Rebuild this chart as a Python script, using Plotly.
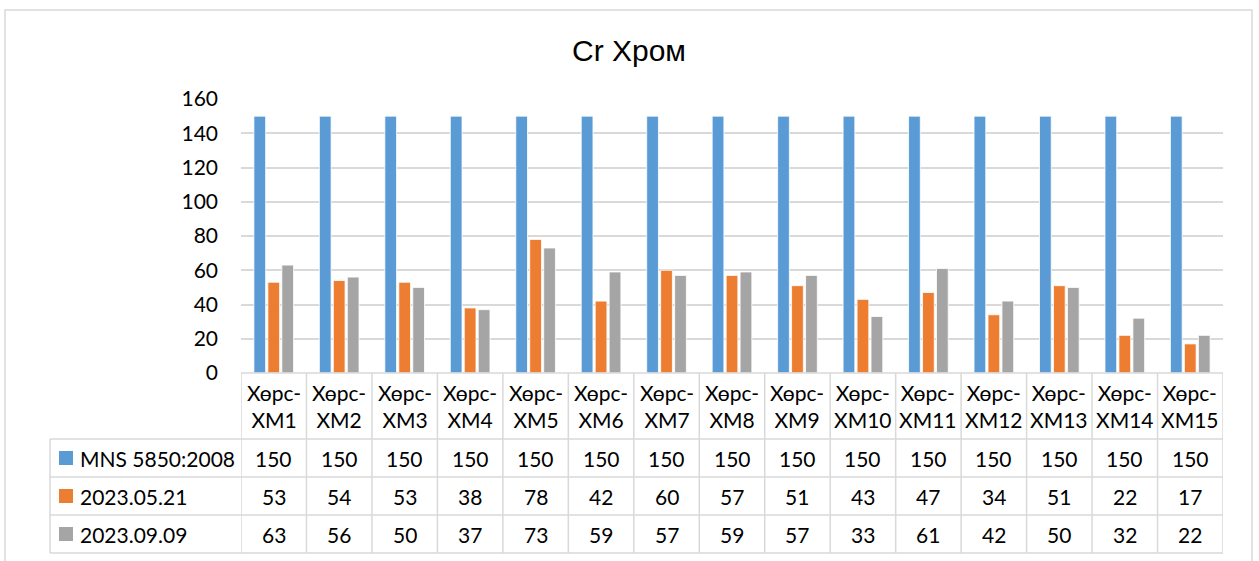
import plotly.graph_objects as go

# Chromium (Cr) in soil samples, mg/kg
sites = ["Хөрс-ХМ1", "Хөрс-ХМ2", "Хөрс-ХМ3", "Хөрс-ХМ4", "Хөрс-ХМ5",
         "Хөрс-ХМ6", "Хөрс-ХМ7", "Хөрс-ХМ8", "Хөрс-ХМ9", "Хөрс-ХМ10",
         "Хөрс-ХМ11", "Хөрс-ХМ12", "Хөрс-ХМ13", "Хөрс-ХМ14", "Хөрс-ХМ15"]
mns_limit = [150, 150, 150, 150, 150, 150, 150, 150, 150, 150, 150, 150, 150, 150, 150]
may_2023 = [53, 54, 53, 38, 78, 42, 60, 57, 51, 43, 47, 34, 51, 22, 17]
sep_2023 = [63, 56, 50, 37, 73, 59, 57, 59, 57, 33, 61, 42, 50, 32, 22]
series_names = ["MNS 5850:2008", "2023.05.21", "2023.09.09"]
y_ticks = [0, 20, 40, 60, 80, 100, 120, 140, 160]

colors = ["#5B9BD5", "#ED7D31", "#A5A5A5"]
series = [mns_limit, may_2023, sep_2023]

W, H = 1259, 561
L, R, T, B = 241, 1223, 99, 373  # plot area in pixels
GRID = "#D9D9D9"
FONT = "Lato"
FS = 21


def py(pixel_y):
    """pixel row -> paper y"""
    return (B - pixel_y) / (B - T)


def px(pixel_x):
    """pixel column -> paper x"""
    return (pixel_x - L) / (R - L)


x_idx = list(range(len(sites)))

fig = go.Figure()
for name, vals, col in zip(series_names, series, colors):
    fig.add_trace(go.Bar(
        x=x_idx, y=vals, name=name,
        marker=dict(color=col, line=dict(color="white", width=0.8)),
    ))

shapes = []
annotations = []

# outer chart frame
shapes.append(dict(type="rect", xref="paper", yref="paper",
                   x0=px(5), x1=px(1252), y0=py(600), y1=py(10),
                   line=dict(color=GRID, width=1.5), fillcolor="rgba(0,0,0,0)",
                   layer="below"))

# data table grid
row_y = [373, 439, 477, 515, 553]
n = len(sites)
# top line of header row (category axis)
shapes.append(dict(type="line", xref="x", yref="paper", x0=-0.5, x1=n - 0.5,
                   y0=py(row_y[0]), y1=py(row_y[0]), line=dict(color=GRID, width=1.5)))
for ry in row_y[1:]:
    shapes.append(dict(type="line", xref="paper", yref="paper", x0=px(50), x1=1,
                       y0=py(ry), y1=py(ry), line=dict(color=GRID, width=1.5)))
for i in range(n + 1):
    shapes.append(dict(type="line", xref="x", yref="paper", x0=i - 0.5, x1=i - 0.5,
                       y0=py(row_y[0]), y1=py(row_y[-1]), line=dict(color=GRID, width=1.5)))
shapes.append(dict(type="line", xref="paper", yref="paper", x0=px(50), x1=px(50),
                   y0=py(row_y[1]), y1=py(row_y[-1]), line=dict(color=GRID, width=1.5)))

# category header cells
for i, s in enumerate(sites):
    head, tail = s.split("-")
    annotations.append(dict(xref="x", yref="paper", x=i, y=py((row_y[0] + row_y[1]) / 2),
                            text=head + "-<br>" + tail, showarrow=False,
                            font=dict(family=FONT, size=FS, color="#000000"),
                            xanchor="center", yanchor="middle", align="center"))

# series rows: legend key + values
for r, (name, vals, col) in enumerate(zip(series_names, series, colors)):
    y_top, y_bot = row_y[r + 1], row_y[r + 2]
    yc = (y_top + y_bot) / 2
    shapes.append(dict(type="rect", xref="paper", yref="paper",
                       x0=px(59), x1=px(73), y0=py(yc + 7), y1=py(yc - 7),
                       fillcolor=col, line=dict(width=0)))
    annotations.append(dict(xref="paper", yref="paper", x=px(78), y=py(yc),
                            text=name, showarrow=False, xanchor="left", yanchor="middle",
                            font=dict(family=FONT, size=FS, color="#000000")))
    for i, v in enumerate(vals):
        annotations.append(dict(xref="x", yref="paper", x=i, y=py(yc),
                                text=str(v), showarrow=False,
                                xanchor="center", yanchor="middle",
                                font=dict(family=FONT, size=FS, color="#000000")))

# chart title
annotations.append(dict(xref="paper", yref="paper", x=px(629), y=py(50),
                        text="Cr Хром", showarrow=False, xanchor="center", yanchor="middle",
                        font=dict(family="Liberation Sans", size=30, color="#000000")))

fig.update_layout(
    width=W, height=H,
    margin=dict(l=L, r=W - R, t=T, b=H - B, pad=0),
    paper_bgcolor="white", plot_bgcolor="white",
    barmode="group", bargap=0.36, bargroupgap=0.16,
    showlegend=False,
    shapes=shapes, annotations=annotations,
    xaxis=dict(range=[-0.5, n - 0.5], showticklabels=False, showgrid=False,
               zeroline=False, showline=False, ticks=""),
    yaxis=dict(range=[0, 160], tickvals=y_ticks, showgrid=True, gridcolor=GRID,
               gridwidth=1.5, zeroline=False, showline=False, ticks="",
               tickfont=dict(family=FONT, size=FS, color="#000000"), ticklabelstandoff=22),
)

fig.write_html("out.html")
